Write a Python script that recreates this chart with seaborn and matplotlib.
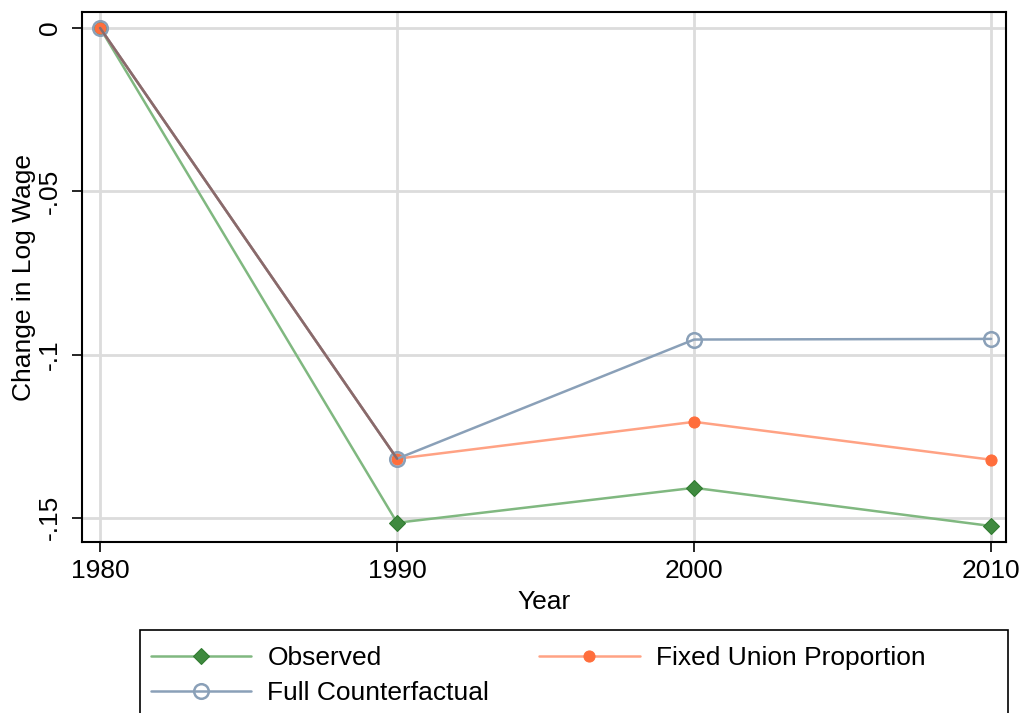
import numpy as np
import pandas as pd
import matplotlib
matplotlib.use("Agg")
import matplotlib.pyplot as plt
from matplotlib.patches import Rectangle
import seaborn as sns

years = [1980, 1990, 2000, 2010]
observed = [0.0, -0.1515, -0.1408, -0.1525]
fixed_union = [0.0, -0.1319, -0.1206, -0.1322]
full_cf = [0.0, -0.1319, -0.0954, -0.0952]

ytick_vals = [0, -0.05, -0.1, -0.15]
ytick_labels = ["0", "-.05", "-.1", "-.15"]

sns.set_style("white")
plt.rcParams['font.family'] = ['Liberation Sans', 'DejaVu Sans']
plt.rcParams['text.color'] = 'black'
plt.rcParams['axes.labelcolor'] = 'black'
FS = 19

fig = plt.figure(figsize=(10.21, 7.13), dpi=100)
ax = fig.add_axes([0.0803, 0.2398, 0.905, 0.7434])

df = pd.DataFrame({"year": years, "obs": observed, "fix": fixed_union, "full": full_cf})

sns.lineplot(data=df, x="year", y="obs", ax=ax, color="#80b880", lw=1.8,
             marker="D", ms=8, markerfacecolor="#3f8a3f", markeredgecolor="#2f7a2f",
             label="Observed", zorder=3)
sns.lineplot(data=df, x="year", y="fix", ax=ax, color="#ffa284", lw=1.8,
             marker="o", ms=8, markerfacecolor="#ff6e3c", markeredgecolor="#ff6e3c",
             label="Fixed Union Proportion", zorder=4)
sns.lineplot(data=df, x="year", y="full", ax=ax, color="#8aa0b8", lw=1.8,
             marker="o", ms=10.5, markerfacecolor="none", markeredgecolor="#8aa0b8",
             markeredgewidth=1.8, label="Full Counterfactual", zorder=5)
# shared segment where the two counterfactual lines overlap
ax.plot(df["year"][:2], df["fix"][:2], color="#8a6a6a", lw=1.8, zorder=6)

ax.set_xlim(1979.39, 2010.5)
ax.set_ylim(-0.1574, 0.0049)
ax.set_xticks(years)
ax.set_yticks(ytick_vals)
ax.set_yticklabels(ytick_labels, rotation=90, va="center")
ax.grid(True, color="#dcdcdc", lw=2)
ax.set_axisbelow(True)
for s in ax.spines.values():
    s.set_color("black")
    s.set_linewidth(1.5)
ax.tick_params(axis="both", direction="out", length=7.5, width=1.2, labelsize=FS,
               left=True, bottom=True, colors="black")
ax.tick_params(axis="x", pad=5)
ax.tick_params(axis="y", pad=7)
ax.set_xlabel("Year", fontsize=FS, labelpad=5)
ax.set_ylabel("Change in Log Wage", fontsize=FS, labelpad=1)

handles, labels = ax.get_legend_handles_labels()
ax.get_legend().remove()
order = [0, 2, 1]
leg = fig.legend([handles[i] for i in order], [labels[i] for i in order],
                 loc="upper left", bbox_to_anchor=(0.1315, 0.1164),
                 ncol=2, fontsize=FS, frameon=False,
                 handlelength=3.8, handletextpad=0.62, labelspacing=0.42,
                 columnspacing=1.9, borderpad=0.62, borderaxespad=0.0)
fig.patches.append(Rectangle((140 / 1021, -0.05), (1008 - 140) / 1021, 0.05 + 83 / 713,
                             transform=fig.transFigure, fill=False, edgecolor="black",
                             linewidth=1.2))

fig.savefig("out.png", dpi=100)
